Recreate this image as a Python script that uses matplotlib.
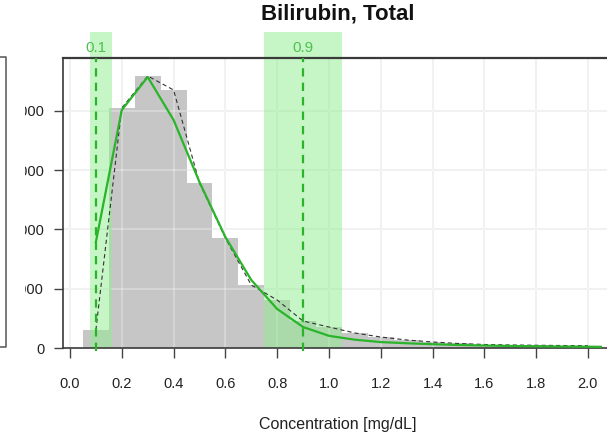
import matplotlib
matplotlib.use("Agg")
import matplotlib.pyplot as plt
from matplotlib.lines import Line2D
from matplotlib.transforms import Bbox, TransformedBbox, blended_transform_factory

plt.rcParams['font.family'] = ['Liberation Sans', 'DejaVu Sans']
plt.rcParams['lines.scale_dashes'] = False

# ---------------- data ----------------
bin_centers = [0.1, 0.2, 0.3, 0.4, 0.5, 0.6, 0.7, 0.8, 0.9, 1.0,
               1.1, 1.2, 1.3, 1.4, 1.5, 1.6, 1.7, 1.8, 1.9, 2.0]
bar_counts = [304, 4047, 4587, 4351, 2782, 1855, 1062, 809, 455, 354,
              253, 185, 135, 101, 76, 59, 51, 46, 42, 39]
bin_width = 0.1

fit_x = [0.1, 0.2, 0.3, 0.4, 0.5, 0.6, 0.7, 0.8, 0.9, 1.0,
         1.1, 1.2, 1.3, 1.4, 1.5, 1.6, 1.7, 1.8, 1.9, 2.0, 2.05]
fit_y = [1788, 4013, 4570, 3845, 2799, 1872, 1147, 658, 354, 205,
         140, 100, 80, 64, 51, 42, 34, 29, 25, 22, 20]

quantile_labels = ["0.1", "0.9"]
quantile_values = [0.1, 0.9]
quantile_ci = [(0.077, 0.162), (0.749, 1.050)]

x_ticks = [0.0, 0.2, 0.4, 0.6, 0.8, 1.0, 1.2, 1.4, 1.6, 1.8, 2.0]
x_tick_labels = ["0.0", "0.2", "0.4", "0.6", "0.8", "1.0", "1.2", "1.4", "1.6", "1.8", "2.0"]
y_ticks = [0, 1000, 2000, 3000, 4000]
y_tick_labels = ["0", "1000", "2000", "3000", "4000"]

title = "Bilirubin, Total"
xlabel = "Concentration [mg/dL]"

# ---------------- figure ----------------
W, H = 607, 436
fig = plt.figure(figsize=(W / 100, H / 100), dpi=100)
L, R, T, B = 63, 612, 58, 348
ax = fig.add_axes([L / W, 1 - B / H, (R - L) / W, (B - T) / H])

green = '#2ab42a'
ax.bar(bin_centers, bar_counts, width=bin_width, color='#c6c6c6', edgecolor='none', zorder=1)

for xt in x_ticks:
    ax.axvline(xt, color='#ececec', lw=1.3, zorder=0.5)
    ax.axvline(xt, color='white', alpha=0.3, lw=1.3, zorder=1.5)
for yt in y_ticks[1:]:
    ax.axhline(yt, color='#ececec', lw=1.3, zorder=0.5)
    ax.axhline(yt, color='white', alpha=0.3, lw=1.3, zorder=1.5)

for (lo, hi) in quantile_ci:
    ax.axvspan(lo, hi, ymin=0, ymax=1.09, color='#8fee8f', alpha=0.5, lw=0,
               zorder=2, clip_on=False)

ax.plot(bin_centers, bar_counts, color='#333333', lw=0.8, dashes=(3.0, 2.2), zorder=3)
ax.plot(fit_x, fit_y, color=green, lw=1.6, zorder=3.5)

trans = blended_transform_factory(ax.transData, ax.transAxes)
for q, lab in zip(quantile_values, quantile_labels):
    ax.plot([q, q], [-0.01, 1.0], transform=trans, color=green, lw=1.6,
            dashes=(6.0, 4.4), zorder=4, clip_on=False)
    ax.text(q, 1.036, lab, transform=trans, ha='center', va='center',
            color='#4fc04f', fontsize=11)

ax.set_xlim(-0.027, 2.093)
ax.set_ylim(0, 290 / 59.3 * 1000)
ax.set_xticks(x_ticks)
ax.set_xticklabels(x_tick_labels)
ax.set_yticks(y_ticks)
ax.set_yticklabels(y_tick_labels)
ax.tick_params(axis='x', length=7, width=1, color='#444444', pad=14, labelsize=10.5,
               labelcolor='#222222')
ax.tick_params(axis='y', length=6.5, width=1, color='#444444', pad=7, labelsize=10.5,
               labelcolor='#222222')
for sp in ax.spines.values():
    sp.set_color('#3a3a3a')
    sp.set_linewidth(1.2)
ax.spines['top'].set_linewidth(1.6)

clip = TransformedBbox(Bbox([[25 / W, 0], [1, 1]]), fig.transFigure)
for lbl in ax.get_yticklabels():
    lbl.set_clip_on(True)
    lbl.set_clip_box(clip)

fig.text((L + R) / 2 / W, 1 - 14 / H, title, ha='center', va='center',
         fontsize=16, fontweight='bold', color='#111111')
fig.text((L + R) / 2 / W, 1 - 424 / H, xlabel, ha='center', va='center',
         fontsize=11.5, color='#222222')

# right edge of neighbouring panel's box
fig.add_artist(Line2D([0, 6 / W, 6 / W, 0], [1 - 57 / H, 1 - 57 / H, 1 - 347 / H, 1 - 347 / H],
                      transform=fig.transFigure, color='#555555', lw=1.1))

fig.savefig("out.png", dpi=100)
